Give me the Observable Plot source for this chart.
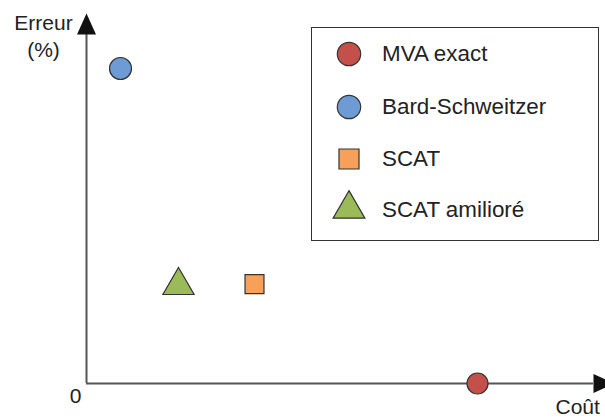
<!DOCTYPE html>
<html>
<head>
<meta charset="utf-8">
<script src="https://cdn.jsdelivr.net/npm/d3@7"></script>
<script src="https://cdn.jsdelivr.net/npm/@observablehq/plot@0.6"></script>
<style>
  html, body { margin: 0; padding: 0; background: #fff; }
  #wrap { position: relative; width: 605px; height: 419px; overflow: hidden; font-family: "Liberation Sans", Arial, sans-serif; }
  #legend { position: absolute; left: 311px; top: 27px; width: 286px; height: 212px; border: 1.5px solid #333; box-sizing: content-box; }
  .item { position: absolute; left: 0; height: 30px; width: 100%; }
  .item svg { position: absolute; left: 21px; top: 0; overflow: visible; }
  .item span { position: absolute; left: 70px; top: 0; height: 30px; line-height: 30px; font-size: 22.4px; color: #222; white-space: nowrap; }
</style>
</head>
<body>
<div id="wrap"></div>
<script>
// Series (cost, error) in arbitrary units, origin = (0, 0)
const series   = ["MVA exact", "Bard-Schweitzer", "SCAT", "SCAT amilioré"];
const cost     = [7.82, 0.68, 3.36, 1.84];
const error    = [0.0, 9.0, 2.84, 2.8];
const symbols  = ["circle", "circle", "square", "triangle"];
const colors   = ["#c4504a", "#6f9bd4", "#f7a05a", "#9bbb59"];
const radii    = [10.5, 11, 10.7, 11.6];
const yLabel   = "Erreur\n(%)";
const xLabel   = "Coût";
const originLabel = "0";

const data = series.map((s, i) => ({name: s, cost: cost[i], error: error[i], symbol: symbols[i], color: colors[i], r: radii[i]}));

const arrowUp = {draw(ctx) { ctx.moveTo(0, -21); ctx.lineTo(9.5, 0); ctx.lineTo(-9.5, 0); ctx.closePath(); }};
const arrowRight = {draw(ctx) { ctx.moveTo(21, 0); ctx.lineTo(0, 9.5); ctx.lineTo(0, -9.5); ctx.closePath(); }};

const xMax = 10.14, yMax = 9.97;

const chart = Plot.plot({
  width: 605,
  height: 419,
  marginLeft: 86,
  marginRight: 19,
  marginTop: 33,
  marginBottom: 36,
  x: {domain: [0, 10], axis: null},
  y: {domain: [0, 10], axis: null},
  r: {type: "identity"},
  style: {fontFamily: "'Liberation Sans', Arial, sans-serif", background: "#fff", overflow: "visible"},
  marks: [
    Plot.ruleY([0], {x1: 0, x2: xMax, stroke: "#555", strokeWidth: 2}),
    Plot.ruleX([0], {y1: 0, y2: yMax, stroke: "#555", strokeWidth: 2}),
    Plot.dot([{x: 0, y: yMax}], {x: "x", y: "y", symbol: arrowUp, fill: "#111", stroke: "none"}),
    Plot.dot([{x: xMax, y: 0}], {x: "x", y: "y", symbol: arrowRight, fill: "#111", stroke: "none"}),
    Plot.dot(data, {x: "cost", y: "error", symbol: "symbol", fill: "color", r: "r", stroke: "#333", strokeWidth: 1.2}),
    Plot.text([yLabel], {frameAnchor: "top-left", dx: -43, dy: 23, textAnchor: "middle", lineAnchor: "bottom", lineHeight: 1.24, fontSize: 21, fill: "#222"}),
    Plot.text([originLabel], {frameAnchor: "bottom-left", dx: -11, dy: 19, textAnchor: "middle", lineAnchor: "bottom", fontSize: 21, fill: "#222"}),
    Plot.text([xLabel], {frameAnchor: "bottom-right", dx: -31, dy: 30, textAnchor: "start", lineAnchor: "bottom", fontSize: 21, fill: "#222"})
  ]
});
chart.setAttribute("style", (chart.getAttribute("style") || "") + ";overflow:visible;");
const wrap = document.getElementById("wrap");
wrap.appendChild(chart);

// Legend (overlaid in the upper-right, inside the plot region)
const legend = document.createElement("div");
legend.id = "legend";
const rowTops = [11, 64, 116, 167];
const symGen = {circle: d3.symbolCircle, square: d3.symbolSquare, triangle: d3.symbolTriangle};
const legendR = [11.7, 11.7, 11.3, 11.8];
series.forEach((s, i) => {
  const item = document.createElement("div");
  item.className = "item";
  item.style.top = rowTops[i] + "px";
  const svg = d3.create("svg").attr("width", 32).attr("height", 30);
  const size = Math.PI * legendR[i] * legendR[i];
  const dy = symbols[i] === "triangle" ? 14 : 15;
  svg.append("path")
    .attr("d", d3.symbol(symGen[symbols[i]], size)())
    .attr("transform", `translate(16,${dy})`)
    .attr("fill", colors[i]).attr("stroke", "#333").attr("stroke-width", 1.2);
  item.appendChild(svg.node());
  const span = document.createElement("span");
  span.textContent = s;
  item.appendChild(span);
  legend.appendChild(item);
});
wrap.appendChild(legend);
</script>
</body>
</html>
